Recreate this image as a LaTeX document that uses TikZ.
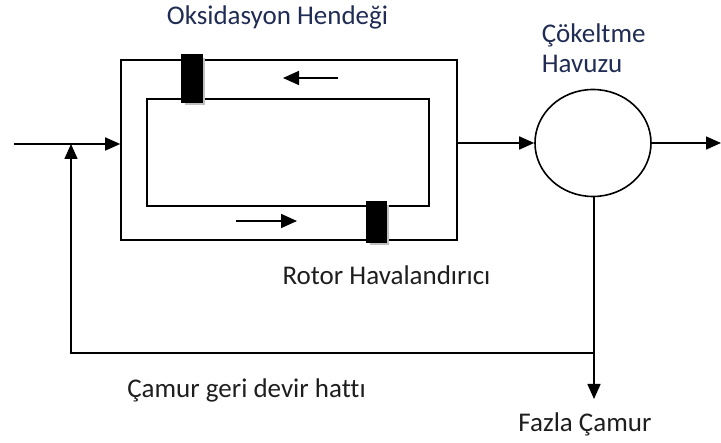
\documentclass[tikz,border=0pt]{standalone}
\usepackage{fontspec}
\setmainfont{Carlito}[Ligatures=NoCommon]
\usetikzlibrary{arrows.meta,shapes.geometric}
\definecolor{titleblue}{RGB}{32,44,84}
\definecolor{labelgray}{RGB}{30,30,30}
\begin{document}
\begin{tikzpicture}[x=1pt,y=-1pt,
  line width=1.6pt,
  flow/.style={-{Triangle[length=15pt,width=13pt]}},
  small/.style={-{Triangle[length=16pt,width=14pt]}},
  basin/.style={draw,rectangle,inner sep=0pt,fill=white},
  rotor/.style={draw=black,fill=black,rectangle,inner sep=0pt},
  shade/.style={fill=black!25,rectangle,inner sep=0pt},
  title/.style={font=\fontsize{27}{29.5}\selectfont,text=titleblue,inner sep=0pt},
  label/.style={font=\fontsize{27}{29.5}\selectfont,text=labelgray,inner sep=0pt,anchor=base}]
\useasboundingbox (0,0) rectangle (721,443);

% oxidation ditch: outer wall and inner island
\node[basin,minimum width=336pt,minimum height=180pt] (ditch) at (289,150) {};
\node[basin,minimum width=282pt,minimum height=107pt] (island) at (288,152.5) {};

% rotor aerators with soft shadow
\node[shade,minimum width=20pt,minimum height=47pt] at (195,81.5) {};
\node[rotor,minimum width=20pt,minimum height=47pt] (rotorA) at (192,78.5) {};
\node[shade,minimum width=19pt,minimum height=40pt] at (379.5,225) {};
\node[rotor,minimum width=19pt,minimum height=40pt] (rotorB) at (376.5,222) {};

% circulation direction
\coordinate (topR) at (338,78);
\coordinate (topL) at (283,78);
\coordinate (botL) at (236,221);
\coordinate (botR) at (297,221);
\draw[small] (topR) -- (topL);
\draw[small] (botL) -- (botR);

% settling tank
\node[draw,ellipse,minimum width=116pt,minimum height=107pt,inner sep=0pt] (tank) at (593,143) {};

% flow lines
\coordinate (in) at (14,144);
\coordinate (join) at (71,144);
\coordinate (out) at (721,143);
\coordinate (split) at (594,353);
\coordinate (corner) at (71,353);
\coordinate (waste) at (594,399);

\draw[flow] (in) -- (ditch.west |- in);
\draw[flow] (ditch.east |- tank.west) -- (tank.west);
\draw[flow] (tank.east) -- (out);
\draw[flow] (tank.south -| waste) -- (waste);
\draw[flow] (split) -- (corner) -- (join);

% labels
\node[title,anchor=base] (lblDitch) at (277.5,25) {Oksidasyon Hendeği};
\node[title,anchor=base west,align=left] (lblTank) at (541,72.5) {Çökeltme\\Havuzu};
\node[label] (lblRotor) at (386.5,285) {Rotor Havalandırıcı};
\node[label] (lblReturn) at (246.5,398) {Çamur geri devir hattı};
\node[label] (lblWaste) at (585,432) {Fazla Çamur};
\end{tikzpicture}
\end{document}
